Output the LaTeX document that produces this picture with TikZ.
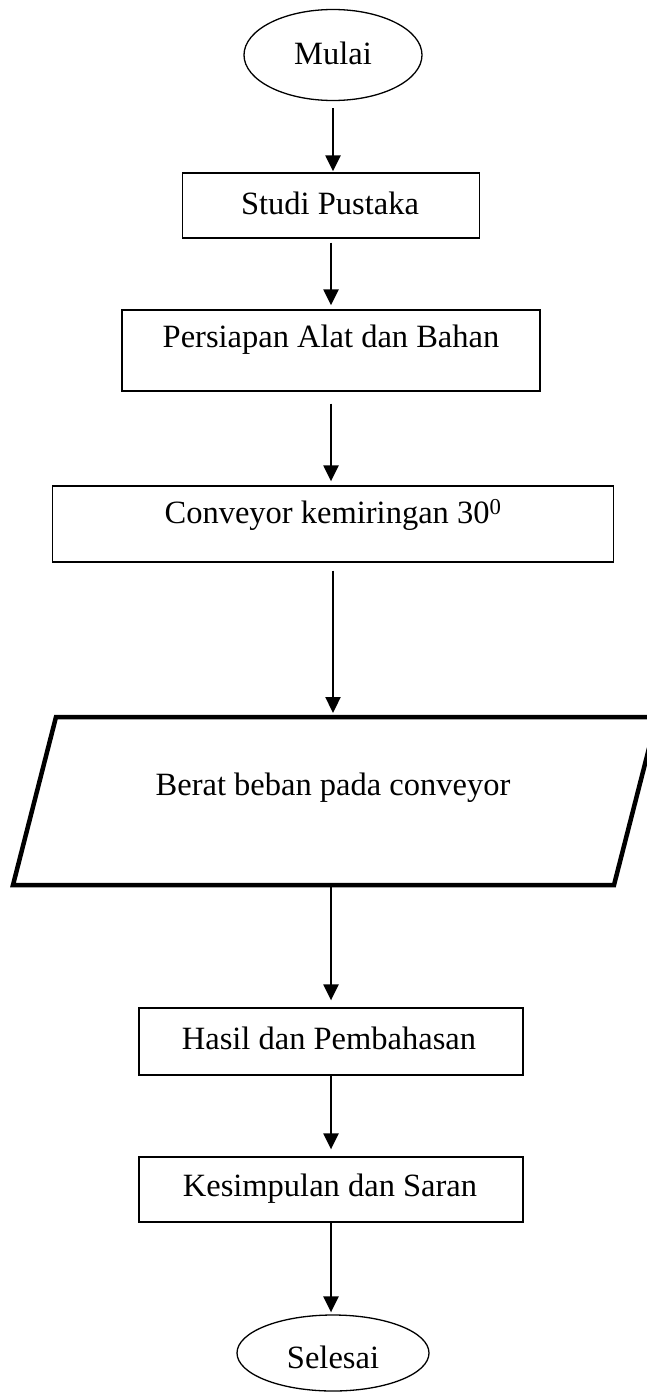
\documentclass[tikz,border=0pt]{standalone}
\usepackage{fontspec}
\setmainfont{Liberation Serif}
\usetikzlibrary{shapes.geometric,arrows.meta}
\begin{document}
\begin{tikzpicture}[x=1pt,y=-1pt,
  box/.style={draw, line width=1.3pt, rectangle, inner sep=0pt},
  oval/.style={draw, line width=1.3pt, ellipse, inner sep=0pt},
  txt/.style={inner sep=0pt, font=\fontsize{32.5}{38}\selectfont},
  arr/.style={line width=2.3pt, -{Triangle[width=15pt,length=16pt]}}]
\useasboundingbox (0,0) rectangle (647,1392);
% shapes
\node[oval, minimum width=178pt, minimum height=91pt] (mulai) at (333,55) {};
\node[box, minimum width=297pt, minimum height=65pt] (studi) at (331,205.5) {};
\node[box, minimum width=418pt, minimum height=81pt] (persiapan) at (331,350.5) {};
\node[box, minimum width=561pt, minimum height=76pt] (conv) at (333,524) {};
\coordinate (pa) at (56,717);
\coordinate (pb) at (657,717);
\coordinate (pc) at (614,885);
\coordinate (pd) at (13,885);
\coordinate (pin) at (333,717);
\coordinate (pout) at (331,885);
\draw[line width=4.5pt] (pa) -- (pb) -- (pc) -- (pd) -- cycle;
\node[box, minimum width=384pt, minimum height=67pt] (hasil) at (331,1041.5) {};
\node[box, minimum width=384pt, minimum height=65pt] (kesim) at (331,1189.5) {};
\node[oval, minimum width=192pt, minimum height=76pt] (selesai) at (333,1353) {};
% texts
\node[txt] (tmulai) at (333,53) {Mulai};
\node[txt] (tstudi) at (330,203) {Studi Pustaka};
\node[txt] (tpers) at (331,340) {Persiapan Alat dan Bahan};
\node[txt] (tconv) at (333,515) {Conveyor kemiringan 30\textsuperscript{0}};
\node[txt] (tberat) at (333,788) {Berat beban pada conveyor};
\node[txt] (thasil) at (329,1038) {Hasil dan Pembahasan};
\node[txt] (tkesim) at (330,1189) {Kesimpulan dan Saran};
\node[txt] (tseles) at (333,1357) {Selesai};
% connectors
\draw[arr, shorten <=7pt, shorten >=1pt] (mulai.south) -- (mulai.south |- studi.north);
\draw[arr, shorten <=4pt, shorten >=4pt] (studi.south) -- (studi.south |- persiapan.north);
\draw[arr, shorten <=12pt, shorten >=4pt] (persiapan.south) -- (persiapan.south |- conv.north);
\draw[arr, shorten <=8pt, shorten >=4pt] (conv.south) -- (pin);
\draw[arr, shorten <=2pt, shorten >=7pt] (pout) -- (pout |- hasil.north);
\draw[arr, shorten >=7pt] (hasil.south) -- (hasil.south |- kesim.north);
\draw[arr, shorten >=2pt] (kesim.south) -- (kesim.south |- selesai.north);
\end{tikzpicture}
\end{document}
